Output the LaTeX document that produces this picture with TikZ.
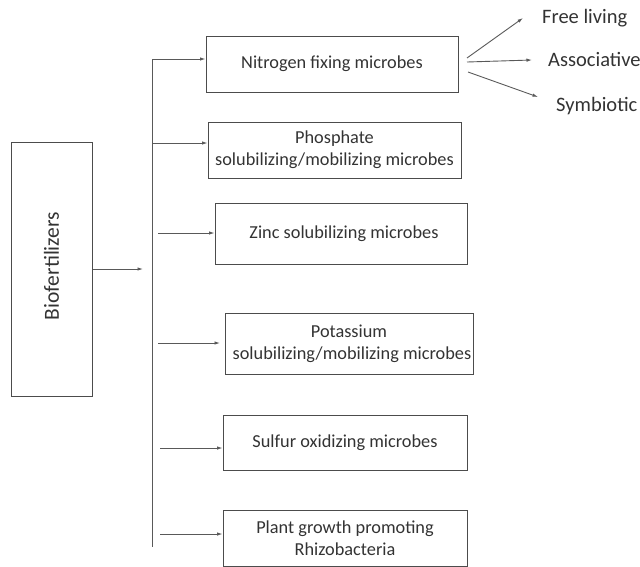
\documentclass[tikz,border=0pt]{standalone}
\usepackage{fontspec}
\setmainfont{Carlito}
\usetikzlibrary{arrows.meta}
\begin{document}
\begin{tikzpicture}[x=1pt,y=-1pt,
  box/.style={draw=black!70,line width=1pt,inner sep=0pt,align=center,font=\fontsize{18.3}{22}\selectfont,text=black!80},
  conn/.style={draw=black!65,line width=0.9pt,-{Latex[length=5.5pt,width=3.5pt]}},
  lbl/.style={inner sep=0pt,font=\fontsize{20.5}{24}\selectfont,text=black!80,anchor=west}]
\useasboundingbox (0,0) rectangle (640,566);
\node[box,minimum width=81pt,minimum height=254pt] (bio) at (51.5,269) {};
\node[rotate=90,font=\fontsize{21.5}{25}\selectfont,text=black!80] (biot) at (51.5,266) {Biofertilizers};
\node[box,minimum width=252pt,minimum height=56pt] (nit) at (332,64) {Nitrogen fixing microbes};
\node[box,minimum width=253pt,minimum height=56pt] (pho) at (334.5,150) {Phosphate\\solubilizing/mobilizing microbes};
\node[box,minimum width=252pt,minimum height=61pt] (zn) at (341,233.5) {\hspace*{6pt}Zinc solubilizing microbes};
\node[box,minimum width=248pt,minimum height=61pt] (pot) at (349,343.5) {Potassium\\\hspace*{6pt}solubilizing/mobilizing microbes};
\node[box,minimum width=244pt,minimum height=55pt] (sul) at (345,442.5) {Sulfur oxidizing microbes};
\node[box,minimum width=244pt,minimum height=56pt] (pgp) at (345,538) {Plant growth promoting\\Rhizobacteria};
\node[lbl] (free) at (542,18) {Free living};
\node[lbl] (asso) at (548,59) {Associative};
\node[lbl] (sym) at (556,106) {Symbiotic};
% trunk
\coordinate (top) at (152,59);
\coordinate (bot) at (152,547);
\draw[draw=black!65,line width=0.9pt] (top) -- (bot);
\coordinate (bioend) at (143,269);
\draw[conn] (bio.east |- bioend) -- (bioend);
% branches
\coordinate (b1) at (152,59);
\coordinate (b2) at (152,143);
\coordinate (b3) at (158,233);
\coordinate (b4) at (158,343);
\coordinate (b5) at (160,448);
\coordinate (b6) at (160,534);
\draw[conn] (b1) -- (b1 -| nit.west);
\draw[conn] (b2) -- (b2 -| pho.west);
\draw[conn] (b3) -- (b3 -| zn.west);
\draw[conn] (b4) -- (220,343);
\draw[conn] (b5) -- (b5 -| sul.west);
\draw[conn] (b6) -- (b6 -| pgp.west);
% nitrogen children
\coordinate (n1) at (467,58);
\coordinate (n2) at (467,62);
\coordinate (n3) at (468,72);
\coordinate (e1) at (523,18);
\coordinate (e2) at (532,60);
\coordinate (e3) at (538,97);
\draw[conn] (n1) -- (e1);
\draw[conn] (n2) -- (e2);
\draw[conn] (n3) -- (e3);
\end{tikzpicture}
\end{document}
